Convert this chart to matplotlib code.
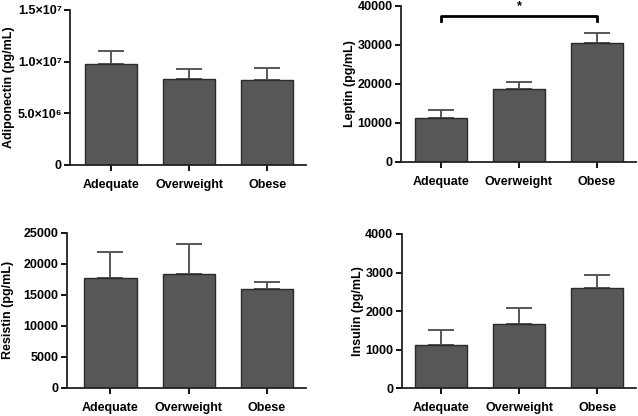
import matplotlib
matplotlib.use("Agg")
import matplotlib.pyplot as plt

plt.rcParams["font.family"] = ["Liberation Sans", "DejaVu Sans"]
plt.rcParams["font.weight"] = "bold"

# ── data ─────────────────────────────────────────────────────────────────────
groups = ["Adequate", "Overweight", "Obese"]

adiponectin_mean = [9.8e6, 8.3e6, 8.25e6]
adiponectin_sem = [1.26e6, 1.0e6, 1.17e6]
adiponectin_ticks = [0, 5.0e6, 1.0e7, 1.5e7]
adiponectin_ticklabels = ["0", "5.0×10⁶", "1.0×10⁷", "1.5×10⁷"]

leptin_mean = [11300, 18650, 30400]
leptin_sem = [1980, 1800, 2750]
leptin_ticks = [0, 10000, 20000, 30000, 40000]

resistin_mean = [17650, 18400, 16000]
resistin_sem = [4200, 4700, 1050]
resistin_ticks = [0, 5000, 10000, 15000, 20000, 25000]

insulin_mean = [1120, 1660, 2600]
insulin_sem = [380, 430, 345]
insulin_ticks = [0, 1000, 2000, 3000, 4000]

BAR = "#575757"
EDGE = "#2a2a2a"


def draw_panel(ax, means, sems, ticks, ylabel, label_x, ticklabels=None,
               xlim=(-0.53, 2.5), ysize=9):
    x = range(len(groups))
    ax.bar(x, means, width=0.667, color=BAR, edgecolor=EDGE, linewidth=1.0, zorder=2)
    ax.errorbar(x, means, yerr=[[0] * len(means), sems], fmt="none",
                ecolor=BAR, elinewidth=1.4, capsize=9.5, capthick=1.4, zorder=1)
    ax.set_xlim(*xlim)
    ax.set_ylim(ticks[0], ticks[-1])
    ax.set_yticks(ticks)
    ax.set_yticklabels(ticklabels or [str(t) for t in ticks])
    ax.set_xticks(list(x))
    ax.set_xticklabels(groups)
    ax.set_ylabel(ylabel, fontsize=9, fontweight="bold")
    ax.yaxis.set_label_coords(label_x, 0.5)
    for s in ("top", "right"):
        ax.spines[s].set_visible(False)
    for s in ("left", "bottom"):
        ax.spines[s].set_linewidth(1.3)
        ax.spines[s].set_color("#222222")
    ax.tick_params(direction="out", length=4, width=1.3, pad=2)
    ax.tick_params(axis="y", labelsize=ysize)
    ax.tick_params(axis="x", labelsize=9, pad=6)
    for lab in ax.get_xticklabels() + ax.get_yticklabels():
        lab.set_fontweight("bold")


fig = plt.figure(figsize=(6.38, 4.16), dpi=100)

ax1 = fig.add_axes([0.1097, 0.6034, 0.370, 0.3726])
draw_panel(ax1, adiponectin_mean, adiponectin_sem, adiponectin_ticks,
           "Adiponectin (pg/mL)", -0.235, adiponectin_ticklabels)

ax2 = fig.add_axes([0.6285, 0.6113, 0.3685, 0.3743])
draw_panel(ax2, leptin_mean, leptin_sem, leptin_ticks, "Leptin (pg/mL)",
           -0.19, xlim=(-0.51, 2.5))
# significance bracket Adequate vs Obese
ax2.plot([0, 0, 2, 2], [36200, 37400, 37400, 36200], color="black",
         lw=2, clip_on=False, zorder=3)
ax2.text(1, 38300, "*", ha="center", va="bottom", fontsize=9,
         fontweight="bold")

ax3 = fig.add_axes([0.1045, 0.068, 0.3751, 0.3726])
draw_panel(ax3, resistin_mean, resistin_sem, resistin_ticks,
           "Resistin (pg/mL)", -0.222, xlim=(-0.56, 2.5))

ax4 = fig.add_axes([0.6296, 0.0666, 0.3674, 0.3709])
draw_panel(ax4, insulin_mean, insulin_sem, insulin_ticks, "Insulin (pg/mL)",
           -0.16, xlim=(-0.51, 2.5))

fig.savefig("out.png", dpi=100)
